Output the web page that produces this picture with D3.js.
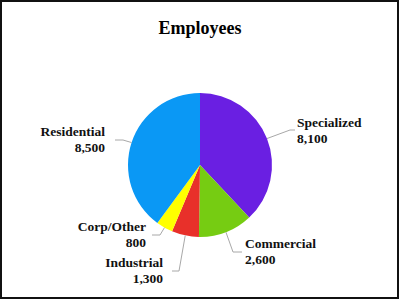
<!DOCTYPE html>
<html><head><meta charset="utf-8">
<script src="https://cdn.jsdelivr.net/npm/d3@7"></script>
<style>html,body{margin:0;padding:0;background:#fff}svg{display:block}</style>
</head><body>
<script>
const categories = ["Specialized", "Commercial", "Industrial", "Corp/Other", "Residential"];
const values = [8100, 2600, 1300, 800, 8500];
const valueLabels = ["8,100", "2,600", "1,300", "800", "8,500"];
const colors = ["#6a1fe2", "#76cc12", "#e8302a", "#ffff00", "#0a98f5"];
const title = "Employees";

const W = 400, H = 300, cx = 200, cy = 165, R = 72;
const layout = [
  {x: 297, y: 127, anchor: "start", elbow: [290, 130], end: [295, 130]},
  {x: 245, y: 248, anchor: "start", elbow: [233, 252], end: [242, 252]},
  {x: 163, y: 267, anchor: "end", elbow: [179, 271], end: [172, 271]},
  {x: 146, y: 231, anchor: "end", elbow: [160, 235], end: [152, 235]},
  {x: 105, y: 136, anchor: "end", elbow: [123, 140], end: [115, 140]}
];

const svg = d3.select("body").append("svg").attr("width", W).attr("height", H);
svg.append("rect").attr("x", 1).attr("y", 1).attr("width", 397).attr("height", 297)
  .attr("fill", "#fff").attr("stroke", "#111").attr("stroke-width", 2);

svg.append("text").attr("x", 200).attr("y", 34).attr("text-anchor", "middle")
  .attr("font-family", "Liberation Serif, Times New Roman, serif").attr("font-weight", "bold")
  .attr("font-size", 18).text(title);

const pie = d3.pie().sort(null).value(d => d)(values);
const arc = d3.arc().innerRadius(0).outerRadius(R);
const g = svg.append("g").attr("transform", `translate(${cx},${cy})`);
g.selectAll("path").data(pie).enter().append("path")
  .attr("d", arc).attr("fill", (d, i) => colors[i]);

pie.forEach((d, i) => {
  const a = (d.startAngle + d.endAngle) / 2;
  const sx = cx + R * Math.sin(a), sy = cy - R * Math.cos(a);
  const L = layout[i];
  svg.append("polyline")
    .attr("points", [[sx, sy], L.elbow, L.end].map(p => p.join(",")).join(" "))
    .attr("fill", "none").attr("stroke", "#a8a8a8").attr("stroke-width", 1);
  const t = svg.append("text").attr("text-anchor", L.anchor)
    .attr("font-family", "Liberation Serif, Times New Roman, serif").attr("font-weight", "bold")
    .attr("font-size", 13.5).attr("fill", "#111");
  t.append("tspan").attr("x", L.x).attr("y", L.y).text(categories[i]);
  t.append("tspan").attr("x", L.x).attr("y", L.y + 15.5).text(valueLabels[i]);
});
</script>
</body></html>
